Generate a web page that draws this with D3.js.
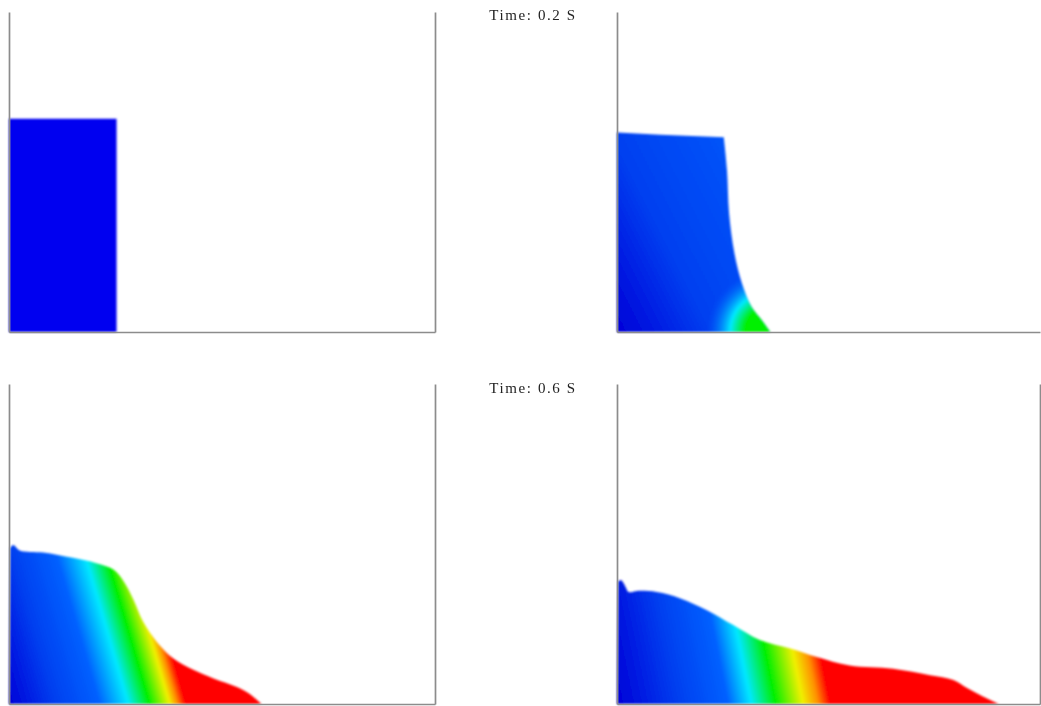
<!DOCTYPE html>
<html>
<head>
<meta charset="utf-8">
<script src="https://cdn.jsdelivr.net/npm/d3@7"></script>
<style>
  html, body { margin: 0; padding: 0; background: #fff; }
  svg { display: block; }
</style>
</head>
<body>
<div id="plot"></div>
<script>
const w = 1041;
const h = 706;

// water surface outlines, x and y in metres
const surface1x = [0, 0, 1.01, 1.01];
const surface1y = [0, 2, 2, 0];
const surface2x = [0, 0, 0.41, 1.01, 1.04, 1.06, 1.11, 1.18, 1.27, 1.37, 1.45];
const surface2y = [0, 1.87, 1.85, 1.825, 1.52, 1.11, 0.74, 0.46, 0.24, 0.11, 0];
const surface3x = [0, 0.01, 0.04, 0.1, 0.32, 0.6, 0.82, 0.98, 1.07, 1.17, 1.26, 1.39, 1.54, 1.73, 1.92, 2.14, 2.25, 2.37];
const surface3y = [0, 1.46, 1.49, 1.44, 1.42, 1.37, 1.32, 1.26, 1.16, 0.975, 0.77, 0.58, 0.43, 0.32, 0.24, 0.16, 0.1, 0];
const surface4x = [0, 0.01, 0.04, 0.08, 0.11, 0.19, 0.375, 0.6, 0.85, 1.1, 1.35, 1.64, 1.89, 2.2, 2.61, 2.96, 3.18, 3.31, 3.46, 3.61];
const surface4y = [0, 1.15, 1.16, 1.1, 1.05, 1.06, 1.05, 0.99, 0.88, 0.74, 0.6, 0.52, 0.44, 0.36, 0.33, 0.27, 0.225, 0.15, 0.07, 0];

// where each speed level sits along the floor, and how far the bands lean
const speedLevels = [0, 1, 2, 3, 4, 5, 6, 7];
const bands1 = [0, 0.5, 1.01];
const bands2 = [0, 0.9, 2.6];
const bands3 = [0, 0.45, 0.85, 1.12, 1.32, 1.51, 1.58, 1.66];
const bands4 = [0, 0.6, 1.05, 1.27, 1.5, 1.76, 1.9, 2.02];
const lean = [0, 0.5, 0.29, 0.2];

// second panel: bands are rings round the front tip
const tipX = 1.45;
const tipRings = [0.6, 0.38, 0.24];

const times = ["Time: 0.2 S", "Time: 0.6 S"];

const jet = ["#0000d8", "#0040f0", "#0060ff", "#00e8ff", "#00f000", "#f0f000", "#ff9000", "#ff0000"];
const jetScale = d3.scaleOrdinal().domain(speedLevels).range(jet);

// hard = how many outline points are joined straight, the rest is smoothed
const panels = [
  { left: 9, right: 435, top: 12, bottom: 332, sx: surface1x, sy: surface1y, bands: bands1, lean: lean[0], rightAxis: true, hard: 4 },
  { left: 617, right: 1040, top: 12, bottom: 332, sx: surface2x, sy: surface2y, bands: bands2, lean: lean[1], rightAxis: false, hard: 4 },
  { left: 9, right: 435, top: 384, bottom: 704, sx: surface3x, sy: surface3y, bands: bands3, lean: lean[2], rightAxis: true, hard: 2 },
  { left: 617, right: 1040, top: 384, bottom: 704, sx: surface4x, sy: surface4y, bands: bands4, lean: lean[3], rightAxis: true, hard: 2 },
];

const svg = d3.select("div#plot")
  .append("svg")
  .attr("width", w)
  .attr("height", h);

const defs = svg.append("defs");

defs.append("filter")
  .attr("id", "soft")
  .attr("x", "-5%").attr("y", "-5%").attr("width", "110%").attr("height", "110%")
  .append("feGaussianBlur")
  .attr("stdDeviation", 0.9);

defs.append("filter")
  .attr("id", "softText")
  .attr("x", "-5%").attr("y", "-20%").attr("width", "110%").attr("height", "140%")
  .append("feGaussianBlur")
  .attr("stdDeviation", 0.65);

panels.forEach((p, i) => {
  const xScale = d3.scaleLinear().domain([0, 4]).range([p.left, p.right]);
  const yScale = d3.scaleLinear().domain([0, 3]).range([p.bottom, p.top]);

  const straight = d3.line()
    .x(d => xScale(d[0]))
    .y(d => yScale(d[1]));

  const smooth = d3.line()
    .x(d => xScale(d[0]))
    .y(d => yScale(d[1]))
    .curve(d3.curveCatmullRom.alpha(0.5));

  const outline = p.sx.map((x, k) => [x, p.sy[k]]);
  const head = outline.slice(0, p.hard);
  const tail = outline.slice(p.hard - 1);
  const shape = straight(head) + (tail.length > 1 ? smooth(tail).replace("M", "L") : "") + "Z";

  // gradient runs square to the leaning bands
  const last = p.bands[p.bands.length - 1];
  const norm = 1 + p.lean * p.lean;
  const grad = defs.append("linearGradient")
    .attr("id", `speed${i}`)
    .attr("gradientUnits", "userSpaceOnUse")
    .attr("x1", xScale(0))
    .attr("y1", yScale(0))
    .attr("x2", xScale(last / norm))
    .attr("y2", yScale(last * p.lean / norm));

  grad.selectAll("stop")
    .data(p.bands)
    .enter()
    .append("stop")
    .attr("offset", d => d / last)
    .attr("stop-color", (d, k) => i === 0 ? "#0000f0" : jetScale(k));

  const g = svg.append("g").attr("filter", "url(#soft)");

  g.append("path")
    .attr("d", shape)
    .attr("fill", `url(#speed${i})`);

  if (i === 1) {
    const ringPx = d3.scaleLinear().domain([0, 4]).range([0, p.right - p.left]);
    const ring = defs.append("radialGradient")
      .attr("id", "tip")
      .attr("gradientUnits", "userSpaceOnUse")
      .attr("cx", xScale(tipX))
      .attr("cy", yScale(0))
      .attr("r", ringPx(tipRings[0]));
    ring.append("stop").attr("offset", 0).attr("stop-color", jet[4]);
    ring.append("stop").attr("offset", tipRings[2] / tipRings[0]).attr("stop-color", jet[4]);
    ring.append("stop").attr("offset", tipRings[1] / tipRings[0]).attr("stop-color", jet[3]);
    ring.append("stop").attr("offset", 1).attr("stop-color", jet[2]).attr("stop-opacity", 0);

    g.append("path")
      .attr("d", shape)
      .attr("fill", "url(#tip)");
  }

  const xAxis = d3.axisBottom(xScale).tickValues([]).tickSizeOuter(0);
  const yAxis = d3.axisLeft(yScale).tickValues([]).tickSizeOuter(0);

  const axes = svg.append("g")
    .attr("class", "axes");

  axes.append("g")
    .attr("transform", `translate(0, ${p.bottom})`)
    .call(xAxis);

  axes.append("g")
    .attr("transform", `translate(${p.left}, 0)`)
    .call(yAxis);

  if (p.rightAxis) {
    axes.append("g")
      .attr("transform", `translate(${p.right}, 0)`)
      .call(yAxis);
  }

  axes.selectAll("path")
    .attr("stroke", "#8c8c8c")
    .attr("stroke-width", 1.7);
});

svg.selectAll(".time")
  .data(times)
  .enter()
  .append("text")
  .attr("class", "time")
  .attr("x", 533)
  .attr("y", (d, i) => i === 0 ? 20 : 393)
  .attr("text-anchor", "middle")
  .attr("font-family", "'Liberation Serif', serif")
  .attr("font-size", "15px")
  .attr("letter-spacing", "1.6px")
  .attr("fill", "#222")
  .attr("filter", "url(#softText)")
  .text(d => d);
</script>
</body>
</html>
